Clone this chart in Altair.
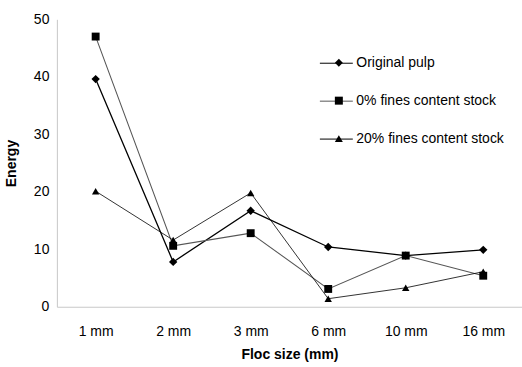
import altair as alt
import pandas as pd

sizes = ["1 mm", "2 mm", "3 mm", "6 mm", "10 mm", "16 mm"]
series_names = ["Original pulp", "0% fines content stock", "20% fines content stock"]
original_pulp = [39.6, 7.8, 16.7, 10.4, 8.9, 9.9]
fines_0 = [47.0, 10.6, 12.8, 3.1, 8.9, 5.4]
fines_20 = [20.1, 11.6, 19.8, 1.4, 3.3, 6.1]

rows = []
for name, vals in zip(series_names, [original_pulp, fines_0, fines_20]):
    for s, v in zip(sizes, vals):
        rows.append({"size": s, "series": name, "energy": v})
df = pd.DataFrame(rows)

FONT = "Liberation Sans"

x_enc = alt.X(
    "size:N", sort=sizes, title="Floc size (mm)",
    scale=alt.Scale(type="point", padding=0.5),
    axis=alt.Axis(labelAngle=0, ticks=False, labelPadding=18, titlePadding=9,
                  domainColor="#c8c8c8", labelFontSize=14, titleFontSize=14),
)
y_enc = alt.Y(
    "energy:Q", title="Energy",
    scale=alt.Scale(domain=[0, 50], nice=False),
    axis=alt.Axis(values=[0, 10, 20, 30, 40, 50], ticks=False, grid=False,
                  labelPadding=8, titlePadding=15, domainColor="#c8c8c8",
                  labelFontSize=14, titleFontSize=14),
)

LEG_X, LEG_Y = 263, 27  # top-left of the legend inside the plot
ROW = 38                # vertical distance between legend rows

line_colors = alt.Scale(domain=series_names, range=["#000000", "#555555", "#000000"])
line_widths = alt.Scale(domain=series_names, range=[1.3, 0.8, 1.2])

# Lines; their legend supplies the horizontal stroke of each legend glyph
lines = alt.Chart(df).mark_line().encode(
    x=x_enc, y=y_enc,
    color=alt.Color(
        "series:N", scale=line_colors, title=None,
        legend=alt.Legend(
            orient="none", legendX=LEG_X, legendY=LEG_Y,
            symbolType="stroke", symbolSize=1089, symbolStrokeWidth=1,
            rowPadding=ROW - 24, labelExpr="''", labelFontSize=14,
        ),
    ),
    strokeWidth=alt.StrokeWidth("series:N", scale=line_widths, legend=None),
)

# Markers; their legend supplies the glyph centred on each stroke, plus the labels
marker_size = 64
markers = alt.Chart(df).mark_point(filled=True, opacity=1, color="#000000").encode(
    x=x_enc, y=y_enc,
    shape=alt.Shape(
        "series:N",
        scale=alt.Scale(domain=series_names, range=["diamond", "square", "triangle-up"]),
        title=None,
        legend=alt.Legend(
            orient="none", legendX=LEG_X + 16.5 - 4, legendY=LEG_Y + 9.5,
            symbolSize=marker_size, symbolFillColor="#000000",
            symbolStrokeColor="#000000", symbolOpacity=1,
            rowPadding=ROW - 14, labelFontSize=14, labelFont=FONT,
            labelOffset=10.5, labelColor="#000000",
        ),
    ),
    size=alt.Size("series:N", scale=alt.Scale(domain=series_names, range=[70, 55, 70]),
                  legend=None),
)

chart = (
    alt.layer(lines, markers)
    .resolve_legend(color="independent", shape="independent")
    .properties(
        width=466, height=288,
        autosize=alt.AutoSizeParams(type="none"),
        padding={"left": 57, "top": 19, "right": 0, "bottom": 60},
    )
    .configure(font=FONT)
    .configure_view(stroke=None)
    .configure_axis(labelColor="#000000", titleColor="#000000",
                    labelFont=FONT, titleFont=FONT, titleFontWeight="bold")
)

chart.save("out.html", embed_options={"renderer": "svg", "actions": False})
